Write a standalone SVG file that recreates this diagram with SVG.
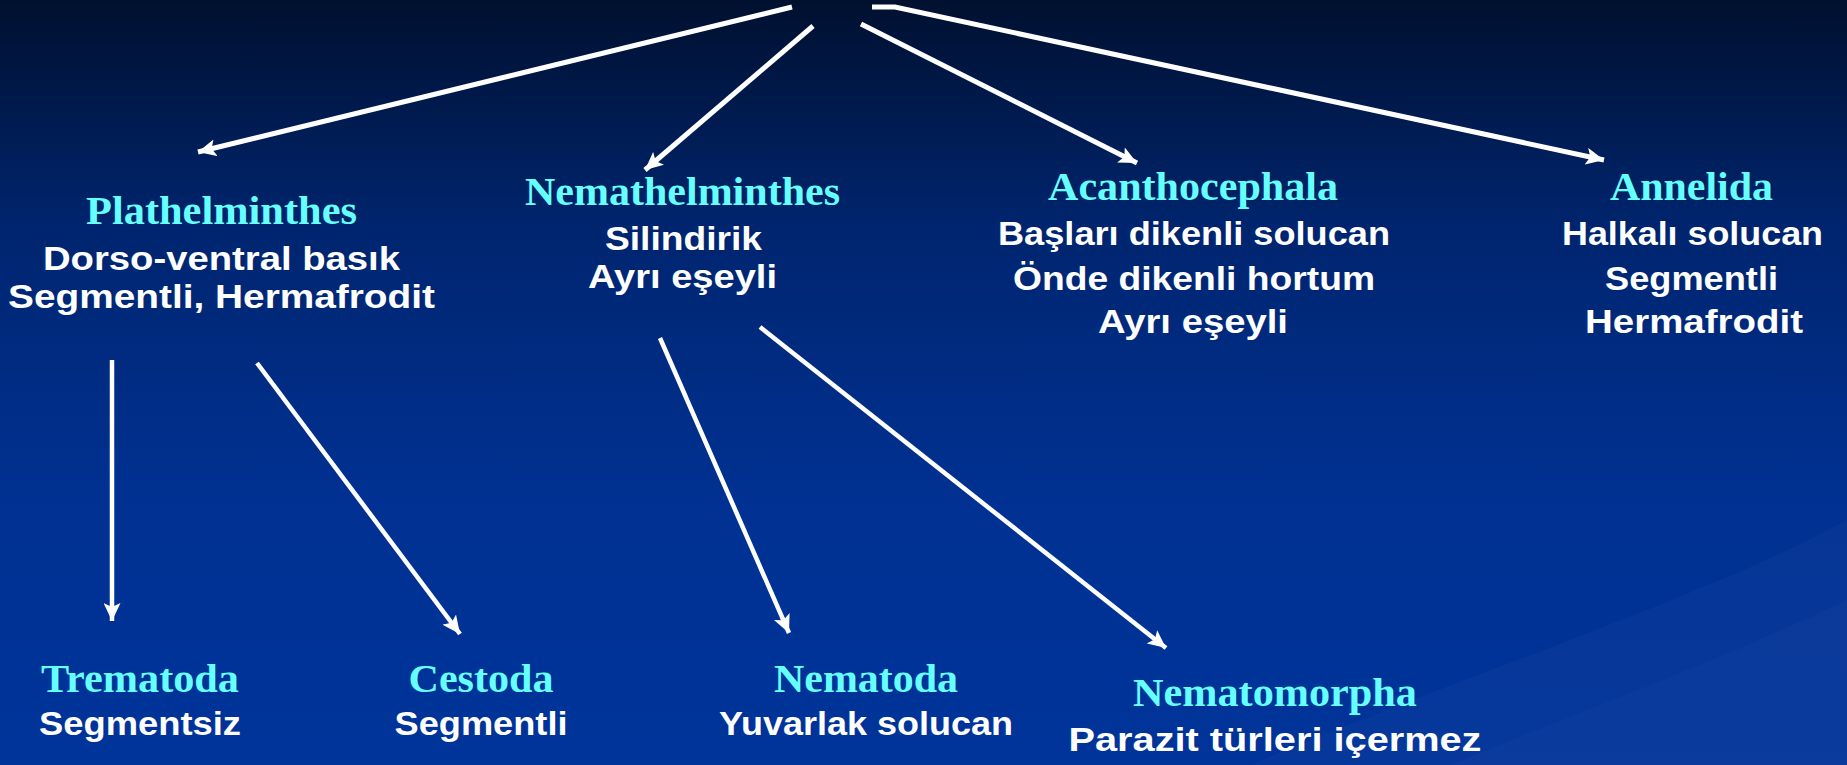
<svg xmlns="http://www.w3.org/2000/svg" width="1847" height="765" viewBox="0 0 1847 765">
  <defs>
    <linearGradient id="bg" x1="0" y1="0" x2="0" y2="1">
      <stop offset="0" stop-color="#00102f"/>
      <stop offset="0.3" stop-color="#00256f"/>
      <stop offset="0.65" stop-color="#003192"/>
      <stop offset="1" stop-color="#00349a"/>
    </linearGradient>
    <marker id="ah" markerUnits="userSpaceOnUse" markerWidth="19" markerHeight="17" refX="18" refY="8.5" orient="auto">
      <path d="M0,0 L18,8.5 L0,17 L4,8.5 z" fill="#ffffff"/>
    </marker>
    <style>
      .t { font-family: "Liberation Serif", "Times New Roman", serif; font-weight: bold; font-size: 41px; fill: #66ffff; text-anchor: middle; }
      .b { font-family: "Liberation Sans", Arial, sans-serif; font-weight: bold; font-size: 34px; fill: #ffffff; text-anchor: middle; }
      .c { fill: none; stroke: #ffffff; stroke-width: 5; marker-end: url(#ah); }
      .c2 { fill: none; stroke: #ffffff; stroke-width: 4.5; marker-end: url(#ah); }
    </style>
  </defs>
  <rect x="0" y="0" width="1847" height="765" fill="url(#bg)"/>
  <path d="M1847,520 C1700,600 1450,680 1250,765 L1847,765 Z" fill="#ffffff" opacity="0.025"/>
  <path d="M1847,600 C1720,660 1560,720 1450,765 L1847,765 Z" fill="#ffffff" opacity="0.02"/>

  <g id="connectors">
    <path class="c" d="M792,7 L198,152"/>
    <path class="c" d="M813,26 L645,170"/>
    <path class="c" d="M861,24 L1137,163"/>
    <path class="c" d="M872,7 L895,7 L1604,160"/>
    <path class="c2" d="M112,360 L112,621"/>
    <path class="c2" d="M257,363 L460,634"/>
    <path class="c2" d="M660,338 L789,633"/>
    <path class="c2" d="M760,327 L1166,648"/>
  </g>

  <g id="plathelminthes">
    <text class="t" x="221.5" y="224" textLength="271" lengthAdjust="spacingAndGlyphs">Plathelminthes</text>
    <text class="b" x="221.5" y="270" textLength="357" lengthAdjust="spacingAndGlyphs">Dorso-ventral basık</text>
    <text class="b" x="221.5" y="308" textLength="427" lengthAdjust="spacingAndGlyphs">Segmentli, Hermafrodit</text>
  </g>
  <g id="nemathelminthes">
    <text class="t" x="682.5" y="205" textLength="315" lengthAdjust="spacingAndGlyphs">Nemathelminthes</text>
    <text class="b" x="683.5" y="250" textLength="157" lengthAdjust="spacingAndGlyphs">Silindirik</text>
    <text class="b" x="682.5" y="288" textLength="189" lengthAdjust="spacingAndGlyphs">Ayrı eşeyli</text>
  </g>
  <g id="acanthocephala">
    <text class="t" x="1193" y="200" textLength="290" lengthAdjust="spacingAndGlyphs">Acanthocephala</text>
    <text class="b" x="1194" y="245" textLength="392" lengthAdjust="spacingAndGlyphs">Başları dikenli solucan</text>
    <text class="b" x="1194" y="290" textLength="362" lengthAdjust="spacingAndGlyphs">Önde dikenli hortum</text>
    <text class="b" x="1193" y="333" textLength="190" lengthAdjust="spacingAndGlyphs">Ayrı eşeyli</text>
  </g>
  <g id="annelida">
    <text class="t" x="1691.5" y="200" textLength="163" lengthAdjust="spacingAndGlyphs">Annelida</text>
    <text class="b" x="1692.5" y="245" textLength="261" lengthAdjust="spacingAndGlyphs">Halkalı solucan</text>
    <text class="b" x="1691.5" y="290" textLength="173" lengthAdjust="spacingAndGlyphs">Segmentli</text>
    <text class="b" x="1694" y="333" textLength="218" lengthAdjust="spacingAndGlyphs">Hermafrodit</text>
  </g>
  <g id="trematoda">
    <text class="t" x="140" y="692" textLength="198" lengthAdjust="spacingAndGlyphs">Trematoda</text>
    <text class="b" x="140" y="735" textLength="202" lengthAdjust="spacingAndGlyphs">Segmentsiz</text>
  </g>
  <g id="cestoda">
    <text class="t" x="481" y="692" textLength="145" lengthAdjust="spacingAndGlyphs">Cestoda</text>
    <text class="b" x="481" y="735" textLength="173" lengthAdjust="spacingAndGlyphs">Segmentli</text>
  </g>
  <g id="nematoda">
    <text class="t" x="866" y="692" textLength="184" lengthAdjust="spacingAndGlyphs">Nematoda</text>
    <text class="b" x="866" y="735" textLength="294" lengthAdjust="spacingAndGlyphs">Yuvarlak solucan</text>
  </g>
  <g id="nematomorpha">
    <text class="t" x="1275" y="706" textLength="284" lengthAdjust="spacingAndGlyphs">Nematomorpha</text>
    <text class="b" x="1275" y="751" textLength="413" lengthAdjust="spacingAndGlyphs">Parazit türleri içermez</text>
  </g>
</svg>
